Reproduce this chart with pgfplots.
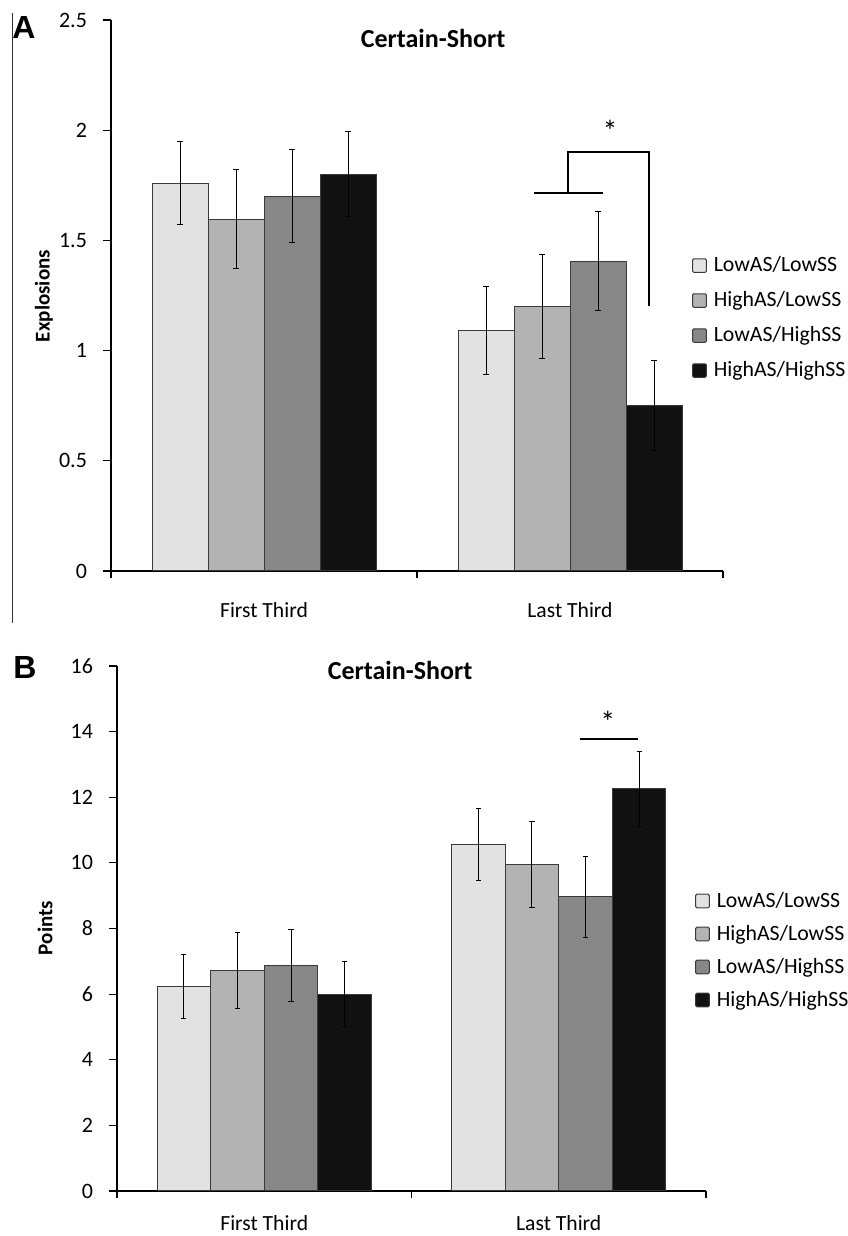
\documentclass[border=0pt]{standalone}
\usepackage{fontspec}
\setmainfont{Carlito}
\newfontfamily\arialfont{Liberation Sans}
\usepackage{pgfplots}
\pgfplotsset{compat=1.18}

\definecolor{c1}{HTML}{E2E2E2}
\definecolor{c2}{HTML}{B3B3B3}
\definecolor{c3}{HTML}{878787}
\definecolor{c4}{HTML}{111111}
\definecolor{edge}{HTML}{3A3A3A}

\pgfplotsset{
  mybar/.style={
    scale only axis, ybar=0pt, clip=false,
    xmin=-0.5, xmax=1.5, ymin=0,
    axis x line*=bottom, axis y line*=left,
    axis line style={line width=0.6pt, black},
    xtick={0,1}, xticklabels={First Third, Last Third},
    minor xtick={-0.5,0.5,1.5},
    major x tick style={draw=none},
    minor x tick style={line width=0.6pt, black},
    ytick style={line width=0.6pt, black},
    tick align=outside,
    minor tick length=3.5pt,
    major tick length=4pt,
    yticklabel style={font=\fontsize{11}{13}\selectfont, xshift=-4.5pt},
    xticklabel style={font=\fontsize{10.8}{13}\selectfont, yshift=-8pt},
    /pgf/number format/assume math mode=true,
    legend cell align=left,
    legend image code/.code={\draw[#1, line width=0.5pt, rounded corners=0.6pt] (0pt,-3.4pt) rectangle (6.8pt,3.4pt);},
    legend style={draw=none, fill=none, inner sep=0pt, anchor=north west,
      font=\fontsize{10.9}{13}\selectfont,
      nodes={inner sep=0pt, text height=8.5pt, text depth=2.5pt},
      /tikz/every odd column/.append style={column sep=3.5pt}},
  },
  bstyle/.style={fill=#1, draw=edge, line width=0.5pt,
    error bars/.cd, y dir=both, y explicit,
    error bar style={line width=0.5pt, black},
    error mark options={rotate=90, mark size=1.3pt, line width=0.5pt, black}},
}

\begin{document}
\begin{tikzpicture}
\path[use as bounding box] (0,0) rectangle (423.5pt,618pt);

% ---------- Panel A ----------
\begin{axis}[mybar,
  at={(55.5pt,332.5pt)}, anchor=south west,
  width=306pt, height=275.5pt, bar width=28pt,
  ymax=2.5, ytick={0,0.5,1,1.5,2,2.5},
  yticklabels={0,0.5,1,1.5,2,2.5},
  legend style={at={(rel axis cs:0.949,0.575)}, row sep=6.5pt},
]
\addplot[bstyle=c1] coordinates {(0,1.760) +- (0,0.190) (1,1.093) +- (0,0.200)};
\addplot[bstyle=c2] coordinates {(0,1.597) +- (0,0.225) (1,1.198) +- (0,0.236)};
\addplot[bstyle=c3] coordinates {(0,1.701) +- (0,0.211) (1,1.406) +- (0,0.225)};
\addplot[bstyle=c4] coordinates {(0,1.801) +- (0,0.191) (1,0.749) +- (0,0.204)};
\legend{LowAS/LowSS, HighAS/LowSS, LowAS/HighSS, HighAS/HighSS}
\draw[line width=1.3pt] (axis cs:0.882,1.715) -- (axis cs:1.108,1.715);
\draw[line width=1.3pt] (axis cs:0.993,1.715) -- (axis cs:0.993,1.901) -- (axis cs:1.258,1.901) -- (axis cs:1.258,1.202);
\node[font=\fontsize{15}{17}\selectfont] at (axis cs:1.131,1.995) {*};
\end{axis}

% ---------- Panel B ----------
\begin{axis}[mybar,
  at={(58.5pt,22.5pt)}, anchor=south west,
  width=294.5pt, height=262.5pt, bar width=26.8pt,
  ymax=16, ytick={0,2,4,6,8,10,12,14,16},
  xticklabel style={yshift=3.5pt},
  legend style={at={(rel axis cs:0.981,0.574)}, row sep=5.5pt},
]
\addplot[bstyle=c1] coordinates {(0,6.23) +- (0,0.98) (1,10.57) +- (0,1.10)};
\addplot[bstyle=c2] coordinates {(0,6.72) +- (0,1.16) (1,9.94) +- (0,1.31)};
\addplot[bstyle=c3] coordinates {(0,6.88) +- (0,1.09) (1,8.96) +- (0,1.23)};
\addplot[bstyle=c4] coordinates {(0,6.00) +- (0,1.00) (1,12.26) +- (0,1.14)};
\legend{LowAS/LowSS, HighAS/LowSS, LowAS/HighSS, HighAS/HighSS}
\draw[line width=1pt] (axis cs:1.072,13.78) -- (axis cs:1.269,13.78);
\node[font=\fontsize{15}{17}\selectfont] at (axis cs:1.167,14.3) {*};
\end{axis}

% ---------- annotations ----------
\draw[line width=0.5pt, black!80] (6pt,611.5pt) -- (6pt,306.5pt);
\node[font=\arialfont\bfseries\fontsize{16}{18}\selectfont] at (12pt,604pt) {A};
\node[font=\arialfont\bfseries\fontsize{16}{18}\selectfont] at (12.5pt,284.5pt) {B};
\node[font=\bfseries\fontsize{13}{15}\selectfont] at (216.5pt,599pt) {Certain-Short};
\node[font=\bfseries\fontsize{13}{15}\selectfont] at (200pt,283pt) {Certain-Short};
\node[font=\bfseries\fontsize{10.5}{12}\selectfont, rotate=90] at (22pt,470pt) {Explosions};
\node[font=\bfseries\fontsize{10.5}{12}\selectfont, rotate=90] at (22.5pt,154pt) {Points};
\end{tikzpicture}
\end{document}
